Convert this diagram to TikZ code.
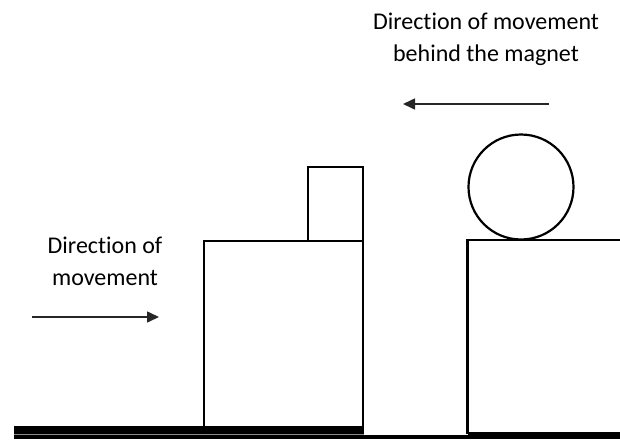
\documentclass[tikz,border=0pt]{standalone}
\usepackage{fontspec}
\setmainfont{Carlito}[Ligatures=NoCommon]
\usetikzlibrary{arrows.meta}
\begin{document}
\begin{tikzpicture}[x=1pt,y=-1pt,
  body/.style={draw=black,line width=2.2pt},
  mover/.style={draw=black!85,line width=1.6pt,-{Triangle[length=12pt,width=11pt]}},
  label/.style={font=\fontsize{24}{31.5}\selectfont,align=center,inner sep=0pt,text=black}]
\useasboundingbox (0,0) rectangle (620,439);
% ground
\fill[black] (14,426) rectangle (364,434);
\fill[black!45] (14,434) rectangle (364,435.2);
\fill[black] (14,435.2) rectangle (620,439);
% left block with small box
\draw[body] (204,426) -- (204,241) -- (363,241) -- (363,426);
\draw[body] (308,241) -- (308,167) -- (363,167) -- (363,241);
% right block with ball
\draw[body] (467.5,434) -- (467.5,240) -- (621,240);
\draw[body] (467.5,433.5) -- (621,433.5);
\node[circle,draw=black,line width=2.2pt,minimum size=105pt,inner sep=0pt] (ball) at (521,187) {};
% arrows
\coordinate (ta) at (549,104);
\coordinate (tb) at (403,104);
\coordinate (la) at (32,317);
\coordinate (lb) at (159,317);
\draw[mover] (ta) -- (tb);
\draw[mover] (la) -- (lb);
% labels
\node[label,anchor=base] (toptext) at (486,61) {Direction of movement\\behind the magnet};
\node[label,anchor=base] (lefttext) at (105,285) {Direction of\\movement};
\end{tikzpicture}
\end{document}
